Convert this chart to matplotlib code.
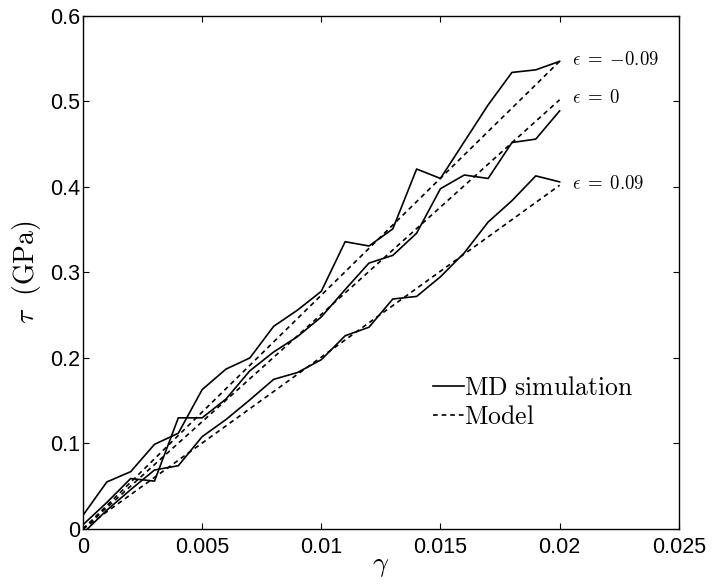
# Shear stress vs shear strain: MD simulation against the linear model
import matplotlib
matplotlib.use("Agg")
import matplotlib.pyplot as plt

plt.rcParams['mathtext.fontset'] = 'cm'
plt.rcParams['font.family'] = ['Liberation Sans', 'DejaVu Sans']
plt.rcParams['lines.scale_dashes'] = False

# strain points of the MD runs
gamma = [0.0, 0.001, 0.002, 0.003, 0.004, 0.005, 0.006, 0.007, 0.008, 0.009, 0.010,
         0.011, 0.012, 0.013, 0.014, 0.015, 0.016, 0.017, 0.018, 0.019, 0.020]

# MD shear stress (GPa), one list per strain eps
md_neg = [0.016, 0.055, 0.067, 0.099, 0.112, 0.163, 0.187, 0.200, 0.237, 0.256, 0.278,
          0.336, 0.331, 0.351, 0.421, 0.410, 0.453, 0.496, 0.534, 0.537, 0.547]
md_zero = [0.005, 0.031, 0.059, 0.056, 0.130, 0.130, 0.152, 0.185, 0.207, 0.225, 0.248,
           0.280, 0.311, 0.320, 0.346, 0.398, 0.414, 0.410, 0.452, 0.456, 0.489]
md_pos = [-0.005, 0.022, 0.046, 0.069, 0.074, 0.108, 0.128, 0.151, 0.175, 0.183, 0.198,
          0.226, 0.236, 0.269, 0.272, 0.295, 0.323, 0.359, 0.384, 0.413, 0.406]

# model: straight lines through the origin
model_gamma = [0.0, 0.020]
model_neg = [0.0, 0.547]
model_zero = [0.0, 0.502]
model_pos = [0.0, 0.402]

eps_values = ['-0.09', '0', '0.09']
dash = (3.4, 2.8)

fig = plt.figure(figsize=(7.13, 5.86), dpi=100)
ax = fig.add_axes([0.1164, 0.0973, 0.8356, 0.8754])

for md in [md_neg, md_zero, md_pos]:
    ax.plot(gamma, md, color='black', lw=1.2)
for mod in [model_neg, model_zero, model_pos]:
    ax.plot(model_gamma, mod, color='black', lw=1.2, dashes=dash)

# label each pair at the right end
for mod, ev in zip([model_neg, model_zero, model_pos], eps_values):
    lab = r'$\epsilon\;=\;$' + '$' + ev + '$'
    ax.text(0.0205, mod[-1] + 0.002, lab, fontsize=13.5, va='center', ha='left')

# proxy handles for the legend
h1, = ax.plot([], [], color='black', lw=1.2)
h2, = ax.plot([], [], color='black', lw=1.2, dashes=dash)
ax.legend([h1, h2], [r'$\mathrm{MD\ simulation}$', r'$\mathrm{Model}$'],
          loc='center left', bbox_to_anchor=(0.57, 0.247), frameon=False,
          fontsize=18.5, handlelength=1.2, handletextpad=0.02, labelspacing=0.2,
          borderaxespad=0)

ax.set_xlim(0, 0.025)
ax.set_ylim(0, 0.6)
ax.set_xticks([0, 0.005, 0.01, 0.015, 0.02, 0.025])
ax.set_xticklabels(['0', '0.005', '0.01', '0.015', '0.02', '0.025'])
ax.set_yticks([0, 0.1, 0.2, 0.3, 0.4, 0.5, 0.6])
ax.set_yticklabels(['0', '0.1', '0.2', '0.3', '0.4', '0.5', '0.6'])
ax.tick_params(direction='in', top=True, right=True, length=4, width=0.8,
               labelsize=15.5)
ax.tick_params(axis='x', pad=6)
ax.tick_params(axis='y', pad=2)
for s in ax.spines.values():
    s.set_linewidth(1.0)

ax.set_xlabel(r'$\gamma$', fontsize=20, labelpad=-4)
ax.set_ylabel(r'$\tau\ \ \mathrm{(GPa)}$', fontsize=20, labelpad=5)

fig.savefig('out.png', dpi=100)
